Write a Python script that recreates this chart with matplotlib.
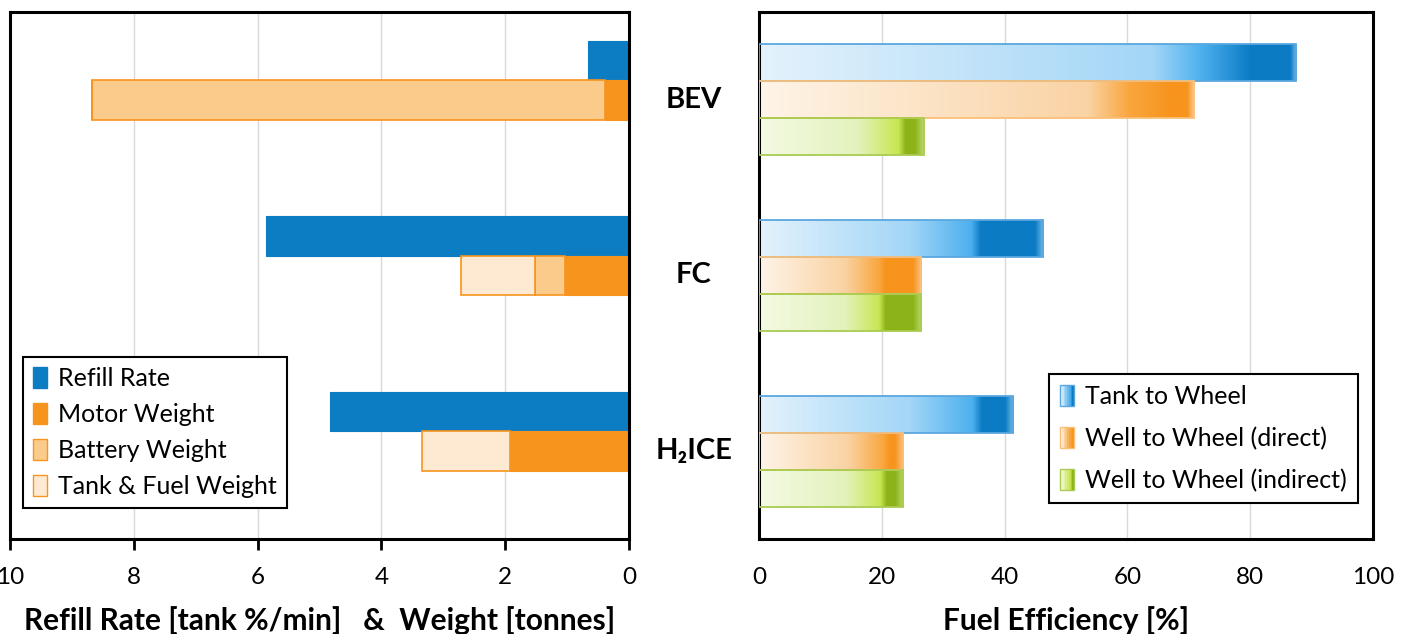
import numpy as np
import matplotlib.pyplot as plt
from matplotlib.colors import to_rgb
from matplotlib.patches import Patch, Rectangle
from matplotlib.legend_handler import HandlerBase

plt.rcParams['font.family'] = ['Lato', 'DejaVu Sans']
plt.rcParams['font.size'] = 17

# categories, top to bottom
vehicles = ['BEV', 'FC', 'H\u2082ICE']

# left panel: refill rate [tank %/min] and weights [tonnes]
refill_rate = [0.66, 5.86, 4.83]
motor_weight = [0.39, 1.03, 1.93]
battery_weight = [8.28, 0.49, 0.0]
tank_fuel_weight = [0.0, 1.19, 1.41]

# right panel: fuel efficiency [%], (lower, upper) of each range
ttw_low = [80.0, 34.8, 35.0]
ttw_high = [87.5, 46.3, 41.4]
wtw_direct_low = [67.0, 19.8, 20.5]
wtw_direct_high = [70.8, 26.4, 23.5]
wtw_indirect_low = [23.0, 19.8, 20.0]
wtw_indirect_high = [26.8, 26.4, 23.5]

left_ticks = [10, 8, 6, 4, 2, 0]
right_ticks = [0, 20, 40, 60, 80, 100]

BLUE = '#0C7CC3'
ORANGE = '#F7941D'
BATT = '#FBCB8C'
TANK = '#FEEAD3'

# gradient colour stops: light, mid, bright, dark, end edge, outline
grad_blue = ['#E4F2FC', '#A3D6F7', '#4DB0EE', '#0B7BC4', '#79BAE8', '#5AA7DF']
grad_orange = ['#FEF4E8', '#FAD3A4', '#F9A63E', '#F7941D', '#FCC58A', '#FBBF78']
grad_green = ['#F4FAE4', '#E3F2BC', '#C8E652', '#8DB31A', '#BCD86E', '#A9CC50']

fig = plt.figure(figsize=(14.12, 6.34), dpi=100)
W, H = 1412, 634
ax1 = fig.add_axes([10 / W, (H - 539) / H, 619 / W, 527 / H])
ax2 = fig.add_axes([759 / W, (H - 539) / H, 614 / W, 527 / H])

y = np.arange(len(vehicles))
hl = 0.225
hr = 0.21

# ---- left panel
ax1.set_axisbelow(True)
ax1.grid(axis='x', color='#D9D9D9', lw=1)
ax1.barh(y - hl, refill_rate, height=hl, color=BLUE, edgecolor=BLUE, lw=0.8)
ax1.barh(y, motor_weight, height=hl, color=ORANGE, edgecolor=ORANGE, lw=0.8)
ax1.barh(y, battery_weight, left=motor_weight, height=hl, color=BATT,
         edgecolor=ORANGE, lw=1.2)
left_tank = np.array(motor_weight) + np.array(battery_weight)
ax1.barh(y, tank_fuel_weight, left=left_tank, height=hl, color=TANK,
         edgecolor=ORANGE, lw=1.2)
ax1.set_xlim(10, 0)
ax1.set_ylim(2.5, -0.5)
ax1.set_yticks([])
ax1.set_xticks(left_ticks)
ax1.tick_params(axis='x', direction='out', length=8, width=2, pad=12, labelsize=17.5)
ax1.set_xlabel('Refill Rate [tank %/min]   &  Weight [tonnes]', fontweight='bold',
               fontsize=21.5, labelpad=13)

leg_handles = [Patch(fc=BLUE, ec=BLUE), Patch(fc=ORANGE, ec=ORANGE),
               Patch(fc=BATT, ec=ORANGE), Patch(fc=TANK, ec=ORANGE)]
leg1 = ax1.legend(leg_handles, ['Refill Rate', 'Motor Weight', 'Battery Weight',
                                'Tank & Fuel Weight'],
                  loc='lower left', bbox_to_anchor=(0.021, 0.059), borderaxespad=0,
                  fancybox=False, framealpha=1, edgecolor='black', fontsize=18,
                  handlelength=0.55, handleheight=0.9, handletextpad=0.45,
                  labelspacing=0.52, borderpad=0.4)
leg1.get_frame().set_linewidth(1.5)


# ---- right panel
def grad_bar(ax, yc, low, high, stops, h):
    c = [np.array(to_rgb(s)) for s in stops]
    soft = max(1.5, 0.12 * low)
    xs = np.linspace(0, high, 600)
    px = [0, low * 0.7, low - 0.3, low + soft * 0.3, high - 1.4, high]
    cols = [c[0], c[1], c[2], c[3], c[3], c[4]]
    if low > 60:
        px = [0, low * 0.8, low * 0.9, low, high - 1.0, high]
    img = np.zeros((1, len(xs), 3))
    for k in range(3):
        img[0, :, k] = np.interp(xs, px, [cc[k] for cc in cols])
    ax.imshow(img, extent=[0, high, yc + h / 2, yc - h / 2], aspect='auto',
              interpolation='bilinear', zorder=2)
    ax.add_patch(Rectangle((0, yc - h / 2), high, h, fill=False, ec=stops[5],
                           lw=1.3, zorder=3))


ax2.set_axisbelow(True)
ax2.grid(axis='x', color='#D9D9D9', lw=1, zorder=0)
for i in range(len(vehicles)):
    grad_bar(ax2, y[i] - hr, ttw_low[i], ttw_high[i], grad_blue, hr)
    grad_bar(ax2, y[i], wtw_direct_low[i], wtw_direct_high[i], grad_orange, hr)
    grad_bar(ax2, y[i] + hr, wtw_indirect_low[i], wtw_indirect_high[i], grad_green, hr)
ax2.set_xlim(0, 100)
ax2.set_ylim(2.5, -0.5)
ax2.set_xticks(right_ticks)
ax2.set_yticks([])
ax2.tick_params(axis='x', length=0, pad=20, labelsize=17.5)
ax2.set_xlabel('Fuel Efficiency [%]', fontweight='bold', fontsize=21.5, labelpad=13)

for i, name in enumerate(vehicles):
    ax2.text(-0.106, y[i], name, transform=ax2.get_yaxis_transform(), ha='center',
             va='center', fontweight='bold', fontsize=21)


class GradHandler(HandlerBase):
    def __init__(self, stops):
        super().__init__()
        self.stops = stops

    def create_artists(self, legend, orig_handle, xdescent, ydescent, width,
                       height, fontsize, trans):
        c0 = np.array(to_rgb(self.stops[0]))
        c1 = np.array(to_rgb(self.stops[2]))
        c2 = np.array(to_rgb(self.stops[3]))
        n = 8
        arts = []
        for k in range(n):
            t = k / (n - 1)
            col = c0 + (c1 - c0) * min(t / 0.7, 1) if t < 0.7 else c1 + (c2 - c1) * (t - 0.7) / 0.3
            arts.append(Rectangle((-xdescent + width * k / n, -ydescent), width / n + 0.3,
                                  height, fc=col, ec='none', transform=trans))
        arts.append(Rectangle((-xdescent, -ydescent), width, height, fill=False,
                              ec=self.stops[5], lw=1, transform=trans))
        return arts


h_ttw, h_dir, h_ind = Patch(), Patch(), Patch()
leg2 = ax2.legend([h_ttw, h_dir, h_ind],
                  ['Tank to Wheel', 'Well to Wheel (direct)', 'Well to Wheel (indirect)'],
                  handler_map={h_ttw: GradHandler(grad_blue), h_dir: GradHandler(grad_orange),
                               h_ind: GradHandler(grad_green)},
                  loc='lower right', bbox_to_anchor=(0.976, 0.068), borderaxespad=0,
                  fancybox=False, framealpha=1, edgecolor='black', fontsize=18,
                  handlelength=0.55, handleheight=0.9, handletextpad=0.45,
                  labelspacing=0.74, borderpad=0.45)
leg2.get_frame().set_linewidth(1.5)

for ax in (ax1, ax2):
    for sp in ax.spines.values():
        sp.set_linewidth(2.2)
        sp.set_color('black')

fig.savefig('out.png', dpi=100)
